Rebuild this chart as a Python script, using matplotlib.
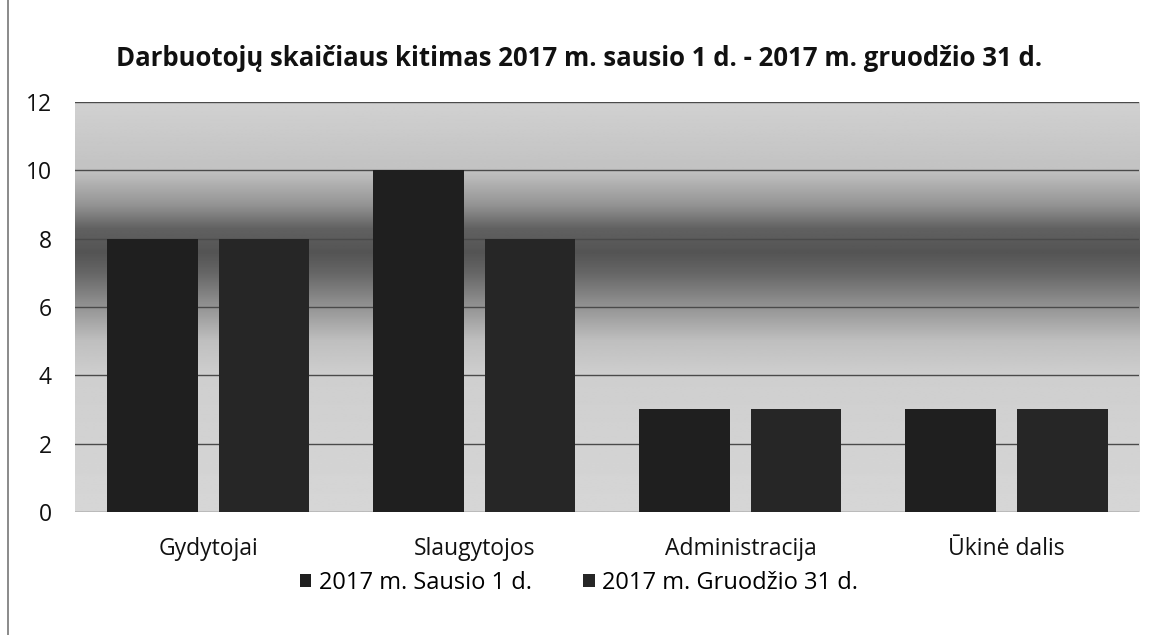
import numpy as np
import matplotlib
matplotlib.use("Agg")
import matplotlib.pyplot as plt
from matplotlib.patches import Rectangle

plt.rcParams['font.family'] = ['Open Sans', 'DejaVu Sans']

# Chart data
categories = ["Gydytojai", "Slaugytojos", "Administracija", "Ūkinė dalis"]
series_names = ["2017 m. Sausio 1 d.", "2017 m. Gruodžio 31 d."]
jan_values = [8, 10, 3, 3]
dec_values = [8, 8, 3, 3]
title = "Darbuotojų skaičiaus kitimas 2017 m. sausio 1 d. - 2017 m. gruodžio 31 d."

fig = plt.figure(figsize=(11.58, 6.35), dpi=100)
fig.patch.set_facecolor("white")
# outer frame of the scanned chart
fig.patches.append(Rectangle((0.007, -0.01), 1.0, 1.02, transform=fig.transFigure,
                             fill=False, edgecolor="#777777", linewidth=1.2))

ax = fig.add_axes([0.065, 0.194, 0.919, 0.645])

# vertical gradient background (dark band around 7-8)
ys = np.linspace(0, 12, 300)
stops_y = [0, 4, 5, 6, 7, 7.6, 8.3, 9, 10, 12]
stops_v = [0.84, 0.81, 0.75, 0.58, 0.40, 0.33, 0.38, 0.58, 0.76, 0.82]
shade = np.interp(ys, stops_y, stops_v)[::-1].reshape(-1, 1)
ax.imshow(np.repeat(shade, 2, axis=1), cmap="gray", vmin=0, vmax=1,
          extent=[-0.5, 3.5, 0, 12], aspect="auto", zorder=0, interpolation="bilinear")

x = np.arange(len(categories))
offset = 0.21
width = 0.34
ax.bar(x - offset, jan_values, width, color="#1f1f1f", label=series_names[0], zorder=3)
ax.bar(x + offset, dec_values, width, color="#262626", label=series_names[1], zorder=3)

ax.set_xlim(-0.5, 3.5)
ax.set_ylim(0, 12)
ax.set_yticks(range(0, 13, 2))
ax.set_xticks(x)
ax.set_xticklabels(categories)
ax.yaxis.grid(True, color="#4a4a4a", linewidth=1.0, zorder=1)
ax.set_axisbelow(True)
for s in ax.spines.values():
    s.set_visible(False)
ax.tick_params(axis="both", length=0, labelsize=16.5, colors="#111111")
ax.tick_params(axis="x", pad=18)
ax.tick_params(axis="y", pad=17)

fig.text(0.5, 0.908, title, ha="center", va="center", fontsize=18.5,
         fontweight="bold", color="#111111")

fig.legend(loc="center", bbox_to_anchor=(0.5, 0.082), ncol=2, frameon=False,
           fontsize=17, handlelength=0.5, handleheight=0.5, columnspacing=2.2,
           handletextpad=0.3)

fig.savefig("out.png", dpi=100)
